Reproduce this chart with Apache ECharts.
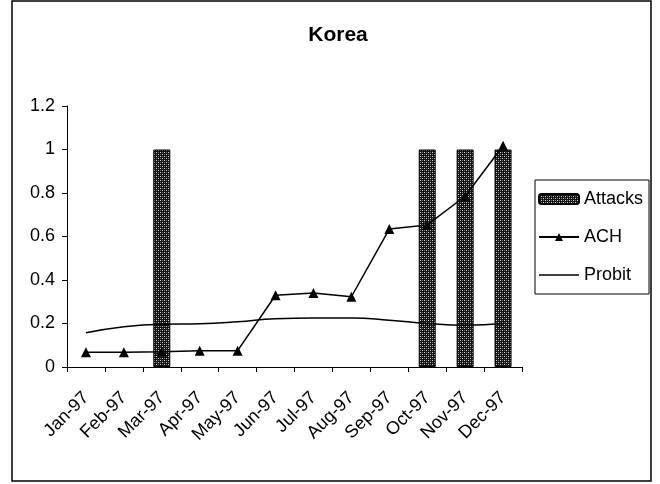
<!DOCTYPE html>
<html><head><meta charset="utf-8">
<script src="https://cdn.jsdelivr.net/npm/echarts@6/dist/echarts.min.js"></script>
<style>html,body{margin:0;padding:0;background:#fff}#c{width:660px;height:484px}</style>
</head><body><div id="c"></div>
<script>
const categories = ['Jan-97','Feb-97','Mar-97','Apr-97','May-97','Jun-97','Jul-97','Aug-97','Sep-97','Oct-97','Nov-97','Dec-97'];
const attacks = [null, null, 1, null, null, null, null, null, null, 1, 1, 1];
const ach = [0.068, 0.068, 0.07, 0.075, 0.075, 0.33, 0.34, 0.323, 0.634, 0.653, 0.785, 1.017];
const probit = [0.157, 0.185, 0.197, 0.199, 0.208, 0.222, 0.225, 0.225, 0.215, 0.2, 0.192, 0.2];
const yTicks = [0, 0.2, 0.4, 0.6, 0.8, 1, 1.2];

const FONT = "'Liberation Sans', Arial, sans-serif";
const pc = document.createElement('canvas');
pc.width = 4; pc.height = 4;
const g = pc.getContext('2d');
g.fillStyle = '#111'; g.fillRect(0,0,4,4);
g.fillStyle = '#d8d8d8';
g.fillRect(0,0,1,1); g.fillRect(2,2,1,1);
g.fillStyle = '#777';
g.fillRect(2,0,1,1); g.fillRect(0,2,1,1);
const pattern = {image: pc, repeat: 'repeat'};

const chart = echarts.init(document.getElementById('c'), null, {renderer:'canvas'});
chart.setOption({
  animation: false,
  backgroundColor: '#fff',
  title: {text: 'Korea', left: 333, top: 20, textAlign: 'center',
    textStyle: {fontFamily: FONT, fontSize: 21, fontWeight: 'bold', color: '#000'}},
  grid: {left: 67, right: 138, top: 106, bottom: 117},
  legend: {
    orient: 'vertical', left: 535, top: 180, width: 109,
    padding: [10, 6, 10, 3], itemGap: 20, itemWidth: 40, itemHeight: 10,
    borderColor: '#000', borderWidth: 1,
    textStyle: {fontFamily: FONT, fontSize: 18, color: '#000'},
    data: ['Attacks', 'ACH', {name: 'Probit', icon: 'path://M0,0H80V3H0Z'}]
  },
  graphic: [{type: 'rect', shape: {x: 12, y: 1, width: 639, height: 480},
    style: {fill: 'none', stroke: '#000', lineWidth: 1.5}, z: -1}],
  xAxis: {
    type: 'category', data: categories, boundaryGap: true,
    axisLine: {lineStyle: {color: '#000', width: 1}},
    axisTick: {show: true, length: 5, alignWithLabel: false, lineStyle: {color: '#000'}},
    axisLabel: {rotate: 45, interval: 0, margin: 28, fontFamily: FONT, fontSize: 18, color: '#000'}
  },
  yAxis: {
    type: 'value', min: 0, max: 1.2, interval: 0.2,
    axisLine: {show: true, lineStyle: {color: '#000', width: 1}},
    axisTick: {show: true, length: 5, lineStyle: {color: '#000'}},
    splitLine: {show: false},
    axisLabel: {margin: 12, fontFamily: FONT, fontSize: 18, color: '#000',
      formatter: v => { const t = yTicks.find(x => Math.abs(x - v) < 1e-9); return t === undefined ? '' : String(t); }}
  },
  series: [
    {name: 'Attacks', type: 'bar', data: attacks, barWidth: 17,
      itemStyle: {color: pattern, borderColor: '#000', borderWidth: 1}, z: 1},
    {name: 'ACH', type: 'line', data: ach, symbol: 'triangle', symbolSize: 10,
      lineStyle: {color: '#000', width: 1.5}, itemStyle: {color: '#000'}, z: 3},
    {name: 'Probit', type: 'line', data: probit, smooth: true, showSymbol: false, symbol: 'none',
      lineStyle: {color: '#000', width: 1.5}, itemStyle: {color: '#000'}, z: 2}
  ]
});
</script></body></html>
